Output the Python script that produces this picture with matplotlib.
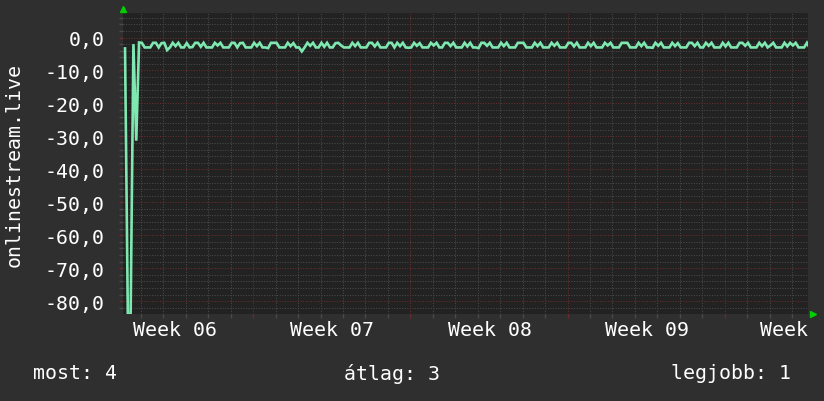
import matplotlib
matplotlib.use("Agg")
import matplotlib.pyplot as plt
import numpy as np

# ---------------- data ----------------
# sample step: 3 hours (1/8 day); first sample at t0 days after left edge
t0 = 0.09
step = 0.125
rank_values = [
    # day 0 (start, with the two dropouts)
    -3.3, -84.0, -84.0, -2.0, -31.3, -1.5, -1.6, -3.0,
    -3.0, -3.0, -1.6, -1.6, -3.0, -1.7, -1.6, -3.8,
    -3.0, -1.6, -2.6, -1.6, -3.0, -3.0, -1.7, -3.0,
    -2.9, -1.6, -1.6, -2.8, -1.6, -3.0, -3.0, -3.0,
    -1.6, -2.4, -1.6, -3.0, -3.0, -3.0, -1.6, -1.6,
    -3.0, -1.7, -1.6, -3.0, -3.0, -3.0, -1.6, -2.6,
    -1.6, -3.0, -3.0, -3.2, -1.6, -1.6, -1.6, -3.0,
    -3.0, -3.0, -1.6, -2.6, -1.7, -3.0, -3.0, -4.2,
    -3.0, -1.6, -2.5, -1.6, -3.0, -3.0, -1.6, -2.8,
    -1.6, -3.0, -3.0, -1.7, -1.6, -2.4, -3.0, -3.0,
    -3.0, -1.6, -2.6, -1.6, -3.0, -3.0, -3.0, -1.6,
    -1.6, -2.7, -1.6, -3.0, -3.0, -3.0, -1.6, -1.6,
    -3.0, -1.6, -2.6, -1.6, -3.0, -3.1, -3.0, -1.6,
    -2.5, -1.7, -3.0, -3.0, -3.0, -1.6, -2.4, -1.6,
    -3.0, -3.0, -1.6, -1.6, -2.6, -1.6, -3.0, -3.0,
    -3.0, -1.6, -2.7, -1.6, -3.0, -3.0, -3.2, -1.6,
    -1.6, -2.5, -1.6, -3.0, -3.0, -3.0, -1.6, -2.6,
    -1.6, -3.0, -3.0, -3.0, -1.6, -1.6, -1.6, -3.0,
    -3.0, -3.0, -1.6, -2.6, -1.6, -3.0, -3.0, -3.0,
    -1.6, -2.5, -1.6, -3.0, -3.0, -3.0, -1.6, -1.6,
    -2.7, -1.6, -3.0, -3.0, -3.0, -1.6, -2.6, -1.6,
    -3.0, -3.0, -3.0, -1.6, -2.4, -1.6, -3.0, -3.0,
    -3.0, -1.6, -1.6, -1.6, -3.0, -3.0, -3.0, -1.6,
    -2.6, -1.6, -3.0, -3.0, -3.1, -1.6, -2.5, -1.6,
    -3.0, -3.0, -3.0, -1.6, -2.6, -1.7, -3.0, -3.0,
    -3.0, -1.6, -1.6, -2.6, -1.6, -3.0, -3.0, -1.6,
    -2.5, -1.6, -3.0, -3.0, -3.0, -1.6, -2.7, -1.6,
    -3.0, -3.0, -3.0, -1.6, -1.6, -2.5, -1.6, -3.0,
    -3.0, -3.0, -1.6, -2.6, -1.6, -3.0, -2.4, -1.6,
    -3.0, -3.0, -3.0, -1.6, -2.7, -1.6, -2.4, -1.6,
    -3.0, -3.0, -3.0, -1.6, -3.2, -3.6, -4.0,
]

week_labels = ["Week 06", "Week 07", "Week 08", "Week 09", "Week"]
week_label_pos = [2.32, 9.33, 16.33, 23.33, 29.45]
y_tick_values = [0, -10, -20, -30, -40, -50, -60, -70, -80]
y_label = "onlinestream.live"
legend_texts = ["most: 4", "\u00e1tlag: 3", "legjobb: 1"]

# ---------------- style ----------------
W, H = 824, 402
BG = "#2f2f2f"
CANVAS = "#222222"
LINE = "#7fe8b0"
MINOR = "#4a4a4a"
MAJOR = "#6a2c2c"
FONT = "DejaVu Sans Mono"
FS = 14.3

fig = plt.figure(figsize=(W / 100, H / 100), dpi=100, facecolor=BG)
left, right, top, bottom = 123, 808, 14, 315
ax = fig.add_axes([left / W, 1 - bottom / H, (right - left) / W, (bottom - top) / H])
ax.set_facecolor(CANVAS)
for s in ax.spines.values():
    s.set_visible(False)

px_per_day = 22.45
xmax = (right - left) / px_per_day
y_top = 7.45
y_bot = -83.9
ax.set_xlim(0, xmax)
ax.set_ylim(y_bot, y_top)

# grid
dot = (0, (1, 1.5))
for v in np.arange(-82, 8, 2):
    if v % 10 == 0:
        continue
    ax.axhline(v, color=MINOR, lw=0.75, ls=dot, zorder=1)
for v in y_tick_values:
    ax.axhline(v, color=MAJOR, lw=0.75, ls=dot, zorder=1.5)
day_lines = np.arange(0.80, xmax, 1.0)
week_lines = [5.80, 12.80, 19.80, 26.80]
for d in day_lines:
    if any(abs(d - w) < 0.01 for w in week_lines):
        continue
    ax.axvline(d, color=MINOR, lw=0.75, ls=dot, zorder=1)
for w in week_lines:
    ax.axvline(w, color=MAJOR, lw=0.75, ls=dot, zorder=1.5)

# data line
t = t0 + step * np.arange(len(rank_values))
ax.plot(t, rank_values, color=LINE, lw=1.9, zorder=3, solid_joinstyle="miter")

# y ticks
ax.set_yticks(y_tick_values)
ax.set_yticklabels([f"{v:.1f}".replace(".", ",") for v in y_tick_values],
                   fontfamily=FONT, fontsize=FS, color="white")
ax.set_yticks(np.arange(-82, 8, 2), minor=True)
ax.tick_params(axis="y", which="major", length=3, width=1, color=MAJOR, pad=10)
ax.tick_params(axis="y", which="minor", length=3, width=1, color=MINOR)
ax.set_xticks(week_lines)
ax.set_xticklabels([])
ax.set_xticks(day_lines, minor=True)
ax.tick_params(axis="x", which="major", length=3, width=1, color=MAJOR)
ax.tick_params(axis="x", which="minor", length=3, width=1, color=MINOR)

# week labels
for lab, pos in zip(week_labels, week_label_pos):
    ax.text(pos, -15 / (bottom - top), lab, transform=ax.get_xaxis_transform(),
            ha="center", va="center", fontfamily=FONT, fontsize=FS, color="white")

# y label
fig.text(14 / W, 1 - 165 / H, y_label, rotation=90, ha="center", va="center",
         fontfamily=FONT, fontsize=FS, color="white")

# arrows
ax.plot([0], [1.0 + 4 / (bottom - top)], marker="^", color="#00d000", ms=5,
        transform=ax.transAxes, clip_on=False, zorder=5)
ax.plot([1.0 + 5 / (right - left)], [0], marker=">", color="#00d000", ms=5,
        transform=ax.transAxes, clip_on=False, zorder=5)

# bottom legend text
fig.text(33 / W, 1 - 374 / H, legend_texts[0], ha="left", va="center",
         fontfamily=FONT, fontsize=FS, color="white")
fig.text(392 / W, 1 - 374 / H, legend_texts[1], ha="center", va="center",
         fontfamily=FONT, fontsize=FS, color="white")
fig.text(791 / W, 1 - 374 / H, legend_texts[2], ha="right", va="center",
         fontfamily=FONT, fontsize=FS, color="white")

fig.savefig("out.png", dpi=100, facecolor=BG)
